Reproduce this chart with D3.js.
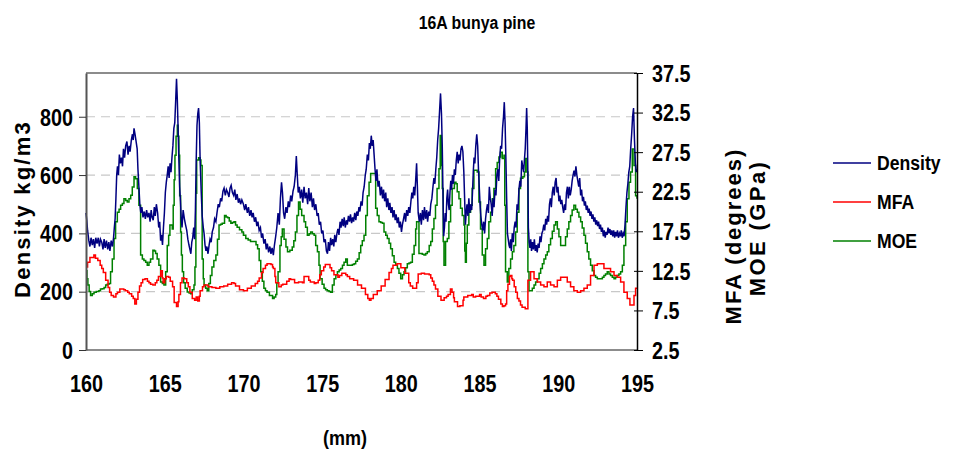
<!DOCTYPE html>
<html><head><meta charset="utf-8">
<script src="https://cdn.jsdelivr.net/npm/d3@7"></script>
<style>
body{margin:0;background:#fff;}
text{font-family:"Liberation Sans",Arial,sans-serif;font-weight:bold;fill:#000;}
</style></head><body>
<svg id="chart" width="954" height="453"></svg>
<script>
const chartTitle = "16A bunya pine";
const xTicks = [160,165,170,175,180,185,190,195];
const leftTicks = [0,200,400,600,800];
const rightTicks = [2.5,7.5,12.5,17.5,22.5,27.5,32.5,37.5];
const seriesNames = ["Density","MFA","MOE"];
const seriesColors = ["#000080","#ff0000","#008000"];

// Density (kg/m3) vs position (mm)
const densityData = [
[160.0,470],[160.05,445],[160.1,410],[160.18,375],[160.25,355],[160.32,385],[160.4,360],[160.47,380],[160.55,350],[160.62,385],[160.7,365],[160.78,385],[160.85,355],[160.92,380],[161.0,370],[161.08,345],[161.15,380],[161.22,350],[161.3,375],[161.38,345],[161.45,370],[161.52,340],[161.6,375],[161.68,355],[161.75,385],[161.8,420],[161.85,450],[161.9,520],[161.95,600],[162.0,630],[162.06,600],[162.12,670],[162.18,640],[162.25,660],[162.32,630],[162.38,690],[162.45,660],[162.52,700],[162.6,715],[162.67,670],[162.74,700],[162.8,680],[162.88,720],[162.95,740],[163.0,720],[163.05,760],[163.1,745],[163.17,720],[163.25,690],[163.3,620],[163.36,560],[163.42,500],[163.48,470],[163.55,490],[163.62,455],[163.7,475],[163.77,450],[163.85,480],[163.92,455],[164.0,470],[164.07,440],[164.14,480],[164.2,455],[164.27,445],[164.34,490],[164.4,460],[164.47,500],[164.55,470],[164.62,420],[164.68,440],[164.74,375],[164.8,395],[164.86,360],[164.92,420],[164.98,470],[165.04,540],[165.1,575],[165.16,600],[165.22,630],[165.28,590],[165.34,640],[165.4,610],[165.46,660],[165.52,700],[165.58,760],[165.64,780],[165.7,860],[165.75,930],[165.8,860],[165.85,760],[165.9,650],[165.95,560],[166.0,510],[166.05,450],[166.1,420],[166.17,480],[166.25,450],[166.32,430],[166.4,410],[166.47,380],[166.54,360],[166.6,345],[166.66,330],[166.72,370],[166.78,385],[166.84,420],[166.9,380],[166.95,480],[167.0,650],[167.05,770],[167.1,810],[167.15,830],[167.2,780],[167.25,650],[167.32,540],[167.38,460],[167.45,420],[167.5,400],[167.56,360],[167.62,340],[167.68,355],[167.75,330],[167.82,360],[167.88,380],[167.95,370],[168.02,405],[168.1,420],[168.17,450],[168.25,440],[168.32,470],[168.4,500],[168.47,490],[168.55,520],[168.62,510],[168.7,545],[168.77,555],[168.85,530],[168.92,550],[169.0,540],[169.08,525],[169.15,555],[169.22,565],[169.3,540],[169.38,530],[169.45,550],[169.52,515],[169.6,535],[169.68,505],[169.75,520],[169.82,500],[169.9,515],[170.0,500],[170.08,480],[170.15,500],[170.25,470],[170.32,490],[170.4,460],[170.48,480],[170.55,455],[170.62,470],[170.7,440],[170.78,455],[170.85,425],[170.92,440],[171.0,410],[171.08,420],[171.15,385],[171.22,400],[171.3,365],[171.38,380],[171.45,345],[171.52,365],[171.6,335],[171.68,355],[171.75,330],[171.82,350],[171.9,325],[171.97,360],[172.05,390],[172.12,420],[172.2,470],[172.28,430],[172.35,520],[172.42,575],[172.48,540],[172.55,470],[172.62,450],[172.7,490],[172.77,470],[172.85,510],[172.92,490],[173.0,530],[173.07,510],[173.15,545],[173.22,560],[173.3,600],[173.36,665],[173.42,600],[173.48,540],[173.55,560],[173.62,520],[173.7,550],[173.77,505],[173.85,560],[173.92,520],[174.0,540],[174.08,500],[174.15,555],[174.22,510],[174.3,540],[174.38,490],[174.45,520],[174.52,480],[174.6,500],[174.68,460],[174.75,470],[174.82,430],[174.9,440],[174.97,400],[175.05,410],[175.12,370],[175.2,380],[175.27,340],[175.34,330],[175.4,370],[175.47,340],[175.54,385],[175.6,360],[175.67,380],[175.74,355],[175.8,395],[175.87,370],[175.94,400],[176.0,415],[176.07,395],[176.14,440],[176.2,420],[176.27,450],[176.34,425],[176.4,455],[176.47,420],[176.54,445],[176.6,430],[176.67,460],[176.74,440],[176.8,465],[176.87,435],[176.94,455],[177.0,440],[177.07,470],[177.14,445],[177.2,475],[177.27,460],[177.34,490],[177.4,475],[177.47,510],[177.54,495],[177.6,540],[177.67,560],[177.74,600],[177.8,620],[177.87,670],[177.94,650],[178.0,710],[178.06,690],[178.12,735],[178.18,700],[178.24,720],[178.3,670],[178.36,620],[178.42,580],[178.48,620],[178.55,560],[178.62,580],[178.7,530],[178.77,560],[178.84,520],[178.9,550],[178.97,510],[179.04,540],[179.1,490],[179.17,520],[179.24,480],[179.3,505],[179.37,470],[179.44,490],[179.5,455],[179.57,480],[179.64,445],[179.7,465],[179.77,435],[179.84,455],[179.9,420],[179.97,440],[180.04,405],[180.1,430],[180.17,450],[180.24,470],[180.3,440],[180.37,480],[180.44,460],[180.5,490],[180.57,470],[180.64,510],[180.7,540],[180.76,520],[180.82,560],[180.88,530],[180.94,580],[181.0,640],[181.05,560],[181.1,470],[181.17,440],[181.24,470],[181.3,430],[181.37,480],[181.44,445],[181.5,490],[181.57,450],[181.64,480],[181.7,440],[181.77,475],[181.84,460],[181.9,500],[181.97,520],[182.04,560],[182.1,590],[182.16,570],[182.22,620],[182.28,660],[182.34,720],[182.4,760],[182.46,820],[182.52,880],[182.58,810],[182.63,700],[182.68,520],[182.72,390],[182.77,420],[182.82,470],[182.87,440],[182.92,520],[182.97,550],[183.02,500],[183.07,480],[183.12,540],[183.17,580],[183.22,550],[183.28,600],[183.34,570],[183.4,620],[183.46,600],[183.52,650],[183.58,680],[183.64,640],[183.7,670],[183.76,650],[183.82,690],[183.88,700],[183.94,680],[184.0,610],[184.05,520],[184.1,430],[184.15,470],[184.2,500],[184.26,460],[184.32,520],[184.38,470],[184.44,500],[184.5,480],[184.55,540],[184.6,610],[184.65,660],[184.7,640],[184.76,700],[184.82,740],[184.88,700],[184.93,620],[184.98,560],[185.03,500],[185.08,460],[185.14,430],[185.2,410],[185.26,440],[185.32,400],[185.38,450],[185.44,480],[185.5,500],[185.56,470],[185.62,560],[185.68,520],[185.74,500],[185.8,460],[185.86,520],[185.92,490],[185.98,550],[186.04,530],[186.1,600],[186.16,620],[186.22,580],[186.28,660],[186.34,700],[186.4,690],[186.46,760],[186.52,800],[186.57,850],[186.62,780],[186.67,660],[186.72,520],[186.77,400],[186.82,380],[186.87,360],[186.92,350],[186.97,380],[187.02,340],[187.08,400],[187.14,370],[187.2,420],[187.26,440],[187.32,420],[187.38,500],[187.44,480],[187.5,550],[187.56,580],[187.62,560],[187.68,650],[187.74,630],[187.8,610],[187.86,660],[187.9,690],[187.95,760],[187.99,830],[188.03,760],[188.07,600],[188.1,420],[188.15,370],[188.2,350],[188.25,380],[188.3,340],[188.36,370],[188.42,345],[188.48,380],[188.54,340],[188.6,360],[188.66,335],[188.72,365],[188.78,350],[188.84,390],[188.9,370],[188.96,400],[189.02,410],[189.08,430],[189.14,410],[189.2,450],[189.26,430],[189.32,460],[189.38,440],[189.44,500],[189.5,520],[189.56,490],[189.62,540],[189.68,560],[189.74,530],[189.8,575],[189.86,590],[189.92,540],[189.98,560],[190.04,510],[190.1,530],[190.16,500],[190.22,515],[190.28,490],[190.34,470],[190.4,500],[190.46,480],[190.52,540],[190.58,560],[190.64,520],[190.7,560],[190.76,530],[190.82,550],[190.88,580],[190.94,600],[191.0,615],[191.06,595],[191.12,630],[191.18,600],[191.24,580],[191.3,560],[191.36,590],[191.42,530],[191.48,550],[191.54,510],[191.6,525],[191.66,495],[191.72,510],[191.78,480],[191.84,495],[191.9,470],[191.96,485],[192.02,460],[192.08,475],[192.14,450],[192.2,465],[192.26,440],[192.32,455],[192.38,430],[192.44,445],[192.5,425],[192.56,440],[192.62,415],[192.68,430],[192.74,405],[192.8,420],[192.86,390],[192.92,410],[192.98,385],[193.04,405],[193.1,395],[193.16,420],[193.22,400],[193.28,415],[193.34,395],[193.4,410],[193.46,390],[193.52,410],[193.58,385],[193.64,405],[193.7,390],[193.76,410],[193.82,385],[193.88,400],[193.94,390],[194.0,410],[194.06,385],[194.12,400],[194.18,390],[194.24,430],[194.3,490],[194.36,540],[194.42,570],[194.48,610],[194.54,630],[194.6,690],[194.66,740],[194.72,800],[194.78,830],[194.84,720],[194.9,640],[194.95,610],[195.0,620]
];

// MFA (degrees) vs position (mm)
const mfaData = [
[160.0,13.0],[160.1,13.6],[160.25,14.2],[160.5,14.5],[160.6,14.1],[160.75,13.8],[160.9,13.2],[161.0,12.8],[161.1,12.3],[161.25,11.3],[161.4,10.4],[161.5,9.8],[161.6,9.4],[161.75,9.2],[161.9,9.6],[162.0,9.8],[162.15,10.2],[162.25,10.2],[162.4,10.1],[162.5,10.0],[162.65,9.8],[162.75,9.6],[162.9,9.3],[163.0,9.0],[163.1,8.3],[163.2,8.9],[163.3,9.8],[163.4,10.6],[163.5,11.0],[163.6,11.4],[163.75,11.5],[163.9,11.2],[164.0,11.0],[164.1,10.8],[164.25,10.7],[164.4,11.0],[164.5,11.3],[164.6,11.8],[164.75,12.5],[164.85,11.6],[164.9,11.0],[165.0,11.5],[165.1,11.8],[165.25,11.7],[165.35,11.2],[165.5,10.5],[165.6,8.5],[165.75,8.0],[165.85,8.6],[165.9,9.5],[166.0,11.0],[166.1,11.6],[166.25,11.5],[166.4,11.0],[166.5,10.5],[166.6,9.8],[166.75,9.0],[166.9,8.8],[167.0,9.2],[167.1,8.7],[167.2,9.3],[167.25,10.0],[167.4,10.5],[167.5,10.7],[167.75,10.5],[168.0,10.4],[168.25,10.3],[168.5,10.5],[168.75,10.6],[169.0,10.8],[169.25,11.0],[169.4,10.9],[169.5,10.6],[169.75,10.1],[170.0,10.0],[170.25,10.3],[170.5,10.6],[170.75,10.9],[170.9,11.2],[171.0,11.6],[171.15,12.3],[171.25,12.8],[171.4,13.2],[171.5,13.4],[171.75,13.3],[171.85,13.0],[171.9,12.8],[172.0,11.8],[172.05,11.0],[172.25,10.5],[172.4,10.7],[172.5,10.8],[172.75,11.2],[172.9,11.5],[173.0,11.4],[173.25,11.0],[173.5,11.1],[173.75,11.0],[173.85,11.8],[174.0,11.8],[174.15,11.3],[174.25,11.1],[174.5,10.9],[174.6,11.0],[174.75,11.3],[174.85,12.0],[174.95,12.5],[175.1,13.0],[175.2,13.3],[175.35,13.3],[175.5,12.9],[175.6,12.5],[175.75,12.0],[176.0,11.7],[176.1,11.9],[176.25,12.2],[176.5,12.0],[176.6,11.8],[176.75,11.5],[177.0,11.3],[177.25,10.7],[177.5,10.3],[177.75,9.5],[177.9,9.0],[178.0,8.8],[178.1,9.0],[178.25,9.5],[178.5,10.0],[178.75,10.6],[179.0,11.4],[179.25,12.3],[179.4,12.8],[179.5,13.2],[179.75,13.4],[180.0,12.9],[180.25,12.2],[180.5,11.0],[180.6,10.6],[180.75,10.3],[180.85,10.3],[181.0,11.0],[181.1,12.1],[181.3,12.2],[181.5,12.1],[181.8,12.0],[181.9,11.6],[182.0,11.2],[182.1,10.7],[182.2,10.2],[182.35,9.3],[182.55,8.8],[182.75,9.1],[182.9,9.3],[183.0,9.5],[183.15,10.2],[183.25,9.8],[183.35,9.1],[183.4,8.6],[183.6,8.0],[183.75,8.1],[183.85,8.1],[183.95,8.8],[184.0,9.2],[184.25,9.4],[184.5,9.5],[184.6,9.2],[184.75,9.3],[185.0,9.5],[185.1,9.2],[185.25,9.0],[185.4,9.3],[185.5,9.4],[185.65,9.7],[185.8,9.8],[186.0,9.6],[186.1,9.3],[186.2,8.9],[186.35,8.3],[186.45,8.0],[186.55,8.1],[186.65,8.3],[186.72,10.0],[186.8,10.8],[186.9,11.8],[186.95,11.9],[187.05,11.5],[187.1,11.3],[187.2,10.5],[187.3,9.8],[187.4,9.0],[187.5,8.7],[187.6,8.2],[187.7,7.9],[187.9,7.7],[188.05,7.7],[188.07,11.3],[188.24,12.4],[188.46,11.5],[188.67,11.1],[188.88,10.7],[189.09,10.5],[189.3,11.1],[189.51,10.7],[189.73,10.5],[189.94,11.3],[190.15,11.7],[190.36,11.7],[190.57,11.1],[190.78,10.5],[190.99,10.0],[191.21,9.8],[191.42,10.0],[191.63,10.3],[191.84,10.7],[192.05,11.9],[192.27,13.2],[192.48,13.4],[192.69,13.4],[192.9,12.8],[193.11,12.8],[193.32,12.4],[193.54,11.9],[193.75,11.7],[193.96,11.1],[194.17,9.8],[194.38,9.0],[194.55,8.2],[194.7,8.2],[194.81,9.4],[194.91,10.3],[195.0,10.3]
];

// MOE (GPa) vs position (mm)
const moeData = [
[160.0,12.5],[160.06,11.5],[160.12,10.7],[160.2,9.9],[160.29,9.4],[160.4,9.6],[160.51,9.8],[160.65,9.9],[160.82,10.0],[160.92,10.2],[161.03,10.25],[161.15,10.4],[161.25,10.7],[161.35,10.8],[161.46,10.9],[161.56,12.4],[161.67,14.0],[161.78,16.6],[161.88,18.7],[161.99,19.9],[162.1,20.3],[162.2,20.8],[162.31,21.0],[162.41,21.6],[162.52,21.4],[162.62,21.2],[162.73,21.6],[162.84,22.05],[162.94,23.1],[163.05,24.4],[163.15,24.15],[163.26,22.9],[163.36,20.8],[163.47,14.5],[163.58,14.0],[163.68,13.8],[163.79,13.6],[163.89,13.2],[164.0,13.6],[164.1,14.0],[164.25,15.1],[164.35,15.0],[164.42,14.7],[164.52,14.0],[164.63,13.2],[164.74,11.1],[164.85,10.9],[164.95,10.7],[165.06,12.4],[165.16,15.7],[165.25,17.0],[165.33,18.3],[165.48,17.8],[165.54,20.8],[165.6,24.0],[165.65,27.1],[165.72,29.5],[165.8,30.9],[165.85,29.5],[165.9,27.1],[165.95,22.0],[166.01,17.4],[166.06,14.5],[166.12,12.4],[166.2,11.0],[166.3,10.3],[166.43,9.83],[166.55,9.7],[166.65,9.6],[166.75,10.1],[166.86,10.7],[166.92,13.0],[166.98,22.3],[167.03,26.5],[167.15,26.8],[167.25,26.5],[167.3,25.8],[167.38,14.0],[167.45,11.5],[167.5,10.7],[167.6,10.3],[167.7,10.0],[167.8,10.9],[167.9,11.9],[168.0,13.0],[168.12,13.8],[168.25,14.5],[168.35,16.5],[168.45,18.3],[168.55,18.4],[168.65,18.5],[168.8,19.5],[168.9,19.3],[169.0,19.2],[169.1,18.8],[169.2,18.5],[169.3,18.6],[169.4,18.7],[169.5,18.3],[169.6,18.0],[169.75,17.7],[169.9,17.4],[170.0,17.0],[170.15,16.6],[170.3,16.4],[170.45,16.2],[170.7,16.2],[170.8,15.8],[170.9,15.3],[171.0,13.8],[171.1,12.4],[171.2,11.2],[171.3,10.3],[171.4,10.0],[171.5,9.8],[171.65,9.4],[171.85,9.0],[171.95,9.2],[172.05,9.5],[172.12,11.0],[172.2,12.4],[172.32,15.7],[172.4,16.8],[172.47,17.8],[172.58,16.5],[172.7,15.5],[172.8,14.9],[172.95,15.1],[173.1,15.5],[173.2,16.3],[173.3,17.4],[173.4,19.5],[173.5,21.2],[173.6,20.3],[173.7,19.5],[173.85,18.7],[173.95,18.0],[174.06,17.0],[174.17,17.2],[174.27,17.4],[174.38,17.2],[174.49,17.0],[174.59,15.7],[174.7,14.9],[174.8,13.2],[174.87,11.5],[175.0,10.8],[175.12,10.3],[175.22,10.1],[175.33,10.0],[175.44,9.9],[175.54,9.8],[175.65,10.7],[175.76,11.5],[175.87,12.0],[175.97,12.4],[176.08,12.6],[176.18,12.8],[176.29,13.2],[176.39,13.6],[176.5,14.0],[176.6,13.2],[176.7,13.2],[176.81,13.2],[176.92,13.3],[177.03,13.4],[177.13,13.7],[177.24,14.0],[177.35,14.8],[177.45,15.7],[177.55,16.3],[177.66,17.0],[177.77,19.5],[177.87,22.0],[177.98,23.7],[178.08,24.8],[178.2,24.8],[178.3,24.8],[178.4,20.4],[178.5,19.5],[178.61,18.7],[178.72,18.6],[178.83,18.5],[178.93,17.4],[179.04,17.0],[179.14,16.6],[179.25,16.0],[179.35,15.3],[179.46,14.4],[179.57,13.6],[179.67,13.2],[179.78,12.8],[179.88,12.2],[179.99,11.5],[180.1,12.0],[180.2,12.4],[180.3,12.9],[180.41,13.4],[180.52,13.5],[180.62,13.6],[180.73,14.6],[180.84,15.7],[180.94,17.8],[181.0,18.7],[181.1,18.7],[181.15,14.7],[181.25,14.7],[181.36,14.6],[181.47,14.5],[181.58,14.7],[181.68,14.9],[181.8,15.7],[181.9,16.2],[182.0,17.8],[182.1,19.1],[182.2,20.8],[182.3,22.9],[182.42,25.4],[182.5,29.6],[182.57,25.8],[182.63,22.9],[182.69,16.2],[182.74,13.2],[182.84,16.2],[182.95,16.6],[183.05,18.7],[183.16,20.8],[183.26,22.9],[183.4,23.7],[183.5,23.5],[183.58,22.5],[183.69,21.6],[183.79,20.4],[183.9,19.5],[184.01,18.3],[184.06,15.0],[184.1,13.6],[184.16,16.0],[184.22,18.3],[184.32,19.9],[184.43,20.8],[184.53,22.9],[184.64,25.2],[184.75,25.2],[184.85,25.0],[184.96,21.2],[185.06,17.8],[185.17,14.5],[185.28,13.2],[185.38,15.3],[185.49,16.6],[185.59,18.7],[185.7,19.9],[185.81,21.6],[185.91,22.9],[186.02,25.4],[186.12,26.2],[186.23,26.9],[186.33,27.5],[186.44,26.7],[186.55,27.1],[186.6,20.8],[186.65,12.4],[186.76,11.1],[186.86,12.8],[186.97,14.0],[187.08,14.9],[187.18,15.7],[187.29,17.4],[187.39,19.9],[187.5,22.9],[187.6,24.2],[187.75,24.4],[187.85,25.0],[187.93,26.7],[188.03,25.0],[188.07,12.4],[188.14,10.0],[188.24,10.0],[188.35,10.3],[188.46,10.7],[188.56,11.1],[188.67,11.5],[188.78,12.2],[188.88,12.8],[188.99,13.4],[189.09,14.0],[189.2,14.5],[189.3,14.9],[189.4,15.8],[189.51,16.6],[189.62,17.5],[189.73,18.3],[189.83,18.7],[189.94,17.8],[190.04,16.8],[190.15,15.7],[190.25,15.7],[190.36,15.7],[190.46,16.8],[190.57,17.8],[190.67,18.7],[190.78,19.5],[190.88,20.2],[190.99,20.8],[191.1,20.3],[191.21,19.9],[191.31,19.3],[191.42,18.7],[191.52,17.9],[191.63,17.0],[191.73,16.0],[191.84,14.9],[191.94,14.0],[192.05,13.2],[192.16,12.5],[192.27,11.9],[192.37,11.7],[192.48,11.5],[192.58,11.5],[192.69,11.5],[192.8,11.7],[192.9,11.9],[193.0,12.1],[193.11,12.4],[193.22,12.1],[193.32,11.9],[193.43,11.7],[193.54,11.5],[193.64,11.7],[193.75,11.9],[193.85,12.1],[193.96,12.4],[194.07,13.2],[194.17,15.7],[194.28,18.7],[194.38,21.6],[194.49,23.7],[194.59,25.0],[194.7,27.9],[194.81,25.8],[194.91,22.0],[195.0,21.6]
];

const svg = d3.select("#chart");
const m = {left:86, right:637, top:73, bottom:350};
const x = d3.scaleLinear().domain([160,195]).range([m.left,m.right]);
const yL = d3.scaleLinear().domain([0,950]).range([m.bottom,m.top]);
const yR = d3.scaleLinear().domain([2.5,37.5]).range([m.bottom,m.top]);

// horizontally condense text to mimic the narrow look of the original
function squeeze(sel, k){
  sel.each(function(){
    const w = this.getComputedTextLength();
    d3.select(this).attr("textLength", (w*k).toFixed(1)).attr("lengthAdjust","spacingAndGlyphs");
  });
}

// gridlines
svg.append("g").selectAll("line").data(leftTicks.filter(d=>d>0)).join("line")
  .attr("x1",m.left).attr("x2",m.right)
  .attr("y1",d=>yL(d)).attr("y2",d=>yL(d))
  .attr("stroke","#c8c8c8").attr("stroke-width",1.2).attr("stroke-dasharray","9,6");

// plot frame (top + bottom gray)
svg.append("line").attr("x1",m.left).attr("x2",m.right).attr("y1",m.top).attr("y2",m.top)
  .attr("stroke","#8c8c8c").attr("stroke-width",2);
svg.append("line").attr("x1",m.left).attr("x2",m.right).attr("y1",m.bottom).attr("y2",m.bottom)
  .attr("stroke","#8c8c8c").attr("stroke-width",2);

// series lines
const lineD = d3.line().x(d=>x(d[0])).y(d=>yL(d[1]));
const lineR = d3.line().x(d=>x(d[0])).y(d=>yR(d[1])).curve(d3.curveStepAfter);
svg.append("path").datum(moeData).attr("d",lineR).attr("fill","none")
  .attr("stroke",seriesColors[2]).attr("stroke-width",1.5);
svg.append("path").datum(mfaData).attr("d",lineR).attr("fill","none")
  .attr("stroke",seriesColors[1]).attr("stroke-width",1.5);
svg.append("path").datum(densityData).attr("d",lineD).attr("fill","none")
  .attr("stroke",seriesColors[0]).attr("stroke-width",1.5);

// left axis
const gL = svg.append("g").attr("transform",`translate(${m.left},0)`)
  .call(d3.axisLeft(yL).tickValues(leftTicks).tickSize(7).tickPadding(6).tickSizeOuter(0));
gL.select(".domain").attr("stroke","#555").attr("stroke-width",2);
gL.selectAll(".tick line").attr("stroke","#333");
gL.selectAll(".tick text").style("font-size","23px").attr("dy","0.36em").call(squeeze,0.86);

// right axis
const gR = svg.append("g").attr("transform",`translate(${m.right},0)`)
  .call(d3.axisRight(yR).tickValues(rightTicks).tickFormat(d3.format(".1f")).tickSize(6).tickPadding(9).tickSizeOuter(0));
gR.select(".domain").attr("stroke","#000").attr("stroke-width",1.5);
gR.selectAll(".tick line").attr("stroke","#000").attr("x1",-3);
gR.selectAll(".tick text").style("font-size","23px").attr("dy","0.36em").call(squeeze,0.86);

// bottom axis labels
const gB = svg.append("g").attr("transform",`translate(0,${m.bottom})`)
  .call(d3.axisBottom(x).tickValues(xTicks).tickFormat(d3.format("d")).tickSize(0).tickPadding(26));
gB.select(".domain").remove();
gB.selectAll(".tick text").style("font-size","23px").call(squeeze,0.86);

// title
svg.append("text").attr("x",477).attr("y",29).attr("text-anchor","middle")
  .style("font-size","18px").text(chartTitle).call(squeeze,0.88);

// axis titles
svg.append("text").attr("transform","translate(30,209) rotate(-90)").attr("text-anchor","middle")
  .style("font-size","22px").style("letter-spacing","2.2px").text("Density kg/m3");
svg.append("text").attr("transform","translate(741,236) rotate(-90)").attr("text-anchor","middle")
  .style("font-size","22px").style("letter-spacing","2px").text("MFA (degrees)");
svg.append("text").attr("transform","translate(765,228) rotate(-90)").attr("text-anchor","middle")
  .style("font-size","22px").style("letter-spacing","2.4px").text("MOE (GPa)");
svg.append("text").attr("x",345).attr("y",445).attr("text-anchor","middle")
  .style("font-size","20px").text("(mm)").call(squeeze,0.9);

// legend
const legendY = [163,202,241];
const lg = svg.append("g");
seriesNames.forEach((n,i)=>{
  lg.append("line").attr("x1",833).attr("x2",871).attr("y1",legendY[i]).attr("y2",legendY[i])
    .attr("stroke",seriesColors[i]).attr("stroke-width",1.5);
  lg.append("text").attr("x",877).attr("y",legendY[i]).attr("dy","0.36em")
    .style("font-size","20px").text(n).call(squeeze,0.88);
});
</script>
</body></html>
